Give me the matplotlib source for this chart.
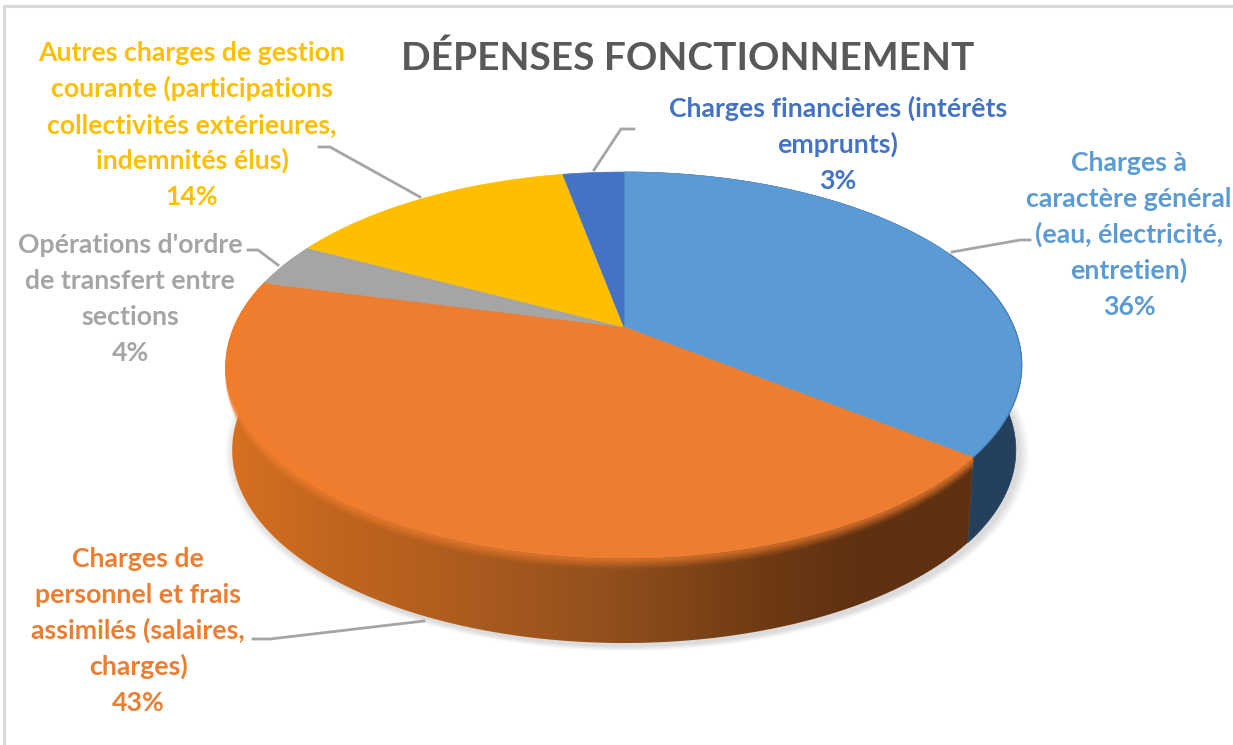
import numpy as np
import matplotlib
matplotlib.use('Agg')
import matplotlib.pyplot as plt
from matplotlib.colors import LinearSegmentedColormap
from matplotlib.patches import Polygon

title = "DÉPENSES FONCTIONNEMENT"
labels = [
    "Charges à\ncaractère général\n(eau, électricité,\nentretien)",
    "Charges de\npersonnel et frais\nassimilés (salaires,\ncharges)",
    "Opérations d'ordre\nde transfert entre\nsections",
    "Autres charges de gestion\ncourante (participations\ncollectivités extérieures,\nindemnités élus)",
    "Charges financières (intérêts\nemprunts)",
]
values = [35.6, 43.4, 3.7, 14.3, 3.0]
colors = ['#5B9BD5', '#ED7D31', '#A5A5A5', '#FFBF00', '#4472C4']

# label layout: centre x, baseline y of the first line
label_pos = [(1129, 171), (138, 567), (130, 253), (192, 61), (838, 117)]
line_pitch = 36
leaders = [
    [(952, 252), (1020, 240), (1030, 240)],
    [(253, 639), (270, 639), (424, 621)],
    [(248, 250), (258, 250), (278, 265)],
    [(319, 147), (330, 147), (420, 197)],
    [(594, 170), (621, 129), (634, 129)],
]

# perspective of the pie top, in pixels
CX, CY = 624, 327
A, B, K = 390, 185.5, 0.197
DEPTH, SHRINK = 85, 0.985
FONT = 'Lato'


def top_xy(theta, scale=1.0):
    # theta in degrees, clockwise from 12 o'clock
    t = np.radians(theta)
    u, v = scale * np.sin(t), scale * np.cos(t)
    w = 1 + K * v
    return CX + A * u / w, CY - B * v / w


def bottom_xy(theta):
    x, y = top_xy(theta)
    return CX + (x - CX) * SHRINK, y + DEPTH


def side_outline(a0, a1):
    th = np.linspace(a0, a1, 200)
    xt, yt = top_xy(th)
    xb, yb = bottom_xy(th[::-1])
    return np.column_stack([np.r_[xt, xb], np.r_[yt, yb]])


fig = plt.figure(figsize=(12.33, 7.45), dpi=100)
ax = fig.add_axes([0, 0, 1, 1])
ax.set_xlim(0, 1233)
ax.set_ylim(745, 0)
ax.axis('off')

# frame of the screenshot
ax.plot([4, 4, 1233], [745, 6, 6], color='#D9D9D9', lw=2.2, zorder=1)

bounds = np.r_[0, np.cumsum(values)] * 360 / sum(values)

# soft shadow under the disc
th = np.linspace(0, 360, 361)
xb, yb = bottom_xy(th)
for i in range(12):
    grow = 1 + 0.0022 * (12 - i)
    ax.add_patch(Polygon(np.column_stack([CX + (xb - CX) * grow + 3, 450 + (yb - 450) * grow + 3]),
                         fc='#000000', ec='none', alpha=0.012, zorder=2))

# side wall, blue part then orange part with its horizontal shading
ax.add_patch(Polygon(side_outline(bounds[0], bounds[1]), fc='#24405C', ec='#24405C', lw=0.5, zorder=3))

side_clip = Polygon(side_outline(bounds[1], bounds[2]), fc='none', ec='none', zorder=3)
ax.add_patch(side_clip)
shade = LinearSegmentedColormap.from_list('side', [
    (0.0, '#D8701F'), (0.12, '#C4671F'), (0.35, '#A85A1E'), (0.5, '#94501D'),
    (0.72, '#6E3A14'), (0.85, '#5F3110'), (1.0, '#5F3110')])
im = ax.imshow(np.linspace(0, 1, 400)[None, :], cmap=shade, extent=[226, 975, 650, 250],
               aspect='auto', zorder=3, interpolation='bilinear')
im.set_clip_path(side_clip)
ax.set_xlim(0, 1233)
ax.set_ylim(745, 0)

# lit edge along the top of the wall
rim_th = np.linspace(bounds[1], bounds[2], 300)
rim_x, rim_y = top_xy(rim_th)
for d in range(1, 13):
    ax.plot(rim_x, rim_y + d, color='#EE7D30', lw=1.4, alpha=0.6 * (1 - d / 13) ** 1.5,
            zorder=3.5, solid_capstyle='butt')

# top face
for i, col in enumerate(colors):
    th = np.linspace(bounds[i], bounds[i + 1], 120)
    x, y = top_xy(th)
    ax.add_patch(Polygon(np.column_stack([np.r_[CX, x], np.r_[CY, y]]),
                         fc=col, ec=col, lw=0.5, zorder=4))

# bevel highlight just inside the orange edge, stronger on the left
left_th = rim_th[rim_th > 215]
for s, al in [(0.995, 0.35), (0.988, 0.28), (0.981, 0.18), (0.974, 0.08)]:
    x, y = top_xy(left_th, s)
    ax.plot(x, y, color='#FA7F22', lw=2.2, alpha=al, zorder=5)
# darker edge at the back right of the blue slice
x, y = top_xy(np.linspace(65, bounds[1], 150))
ax.plot(x, y, color='#3E6C9C', lw=1.0, alpha=0.5, zorder=5)

for pts in leaders:
    ax.plot([p[0] for p in pts], [p[1] for p in pts], color='#A5A5A5', lw=2, zorder=6)

ax.text(688, 70, title, ha='center', va='baseline', color='#595959', fontsize=28,
        fontweight='bold', family=FONT, zorder=7)

total = sum(values)
for lab, val, col, (lx, ly) in zip(labels, values, colors, label_pos):
    lines = lab.split('\n') + [f"{round(val * 100 / total)}%"]
    for i, line in enumerate(lines):
        ax.text(lx, ly + i * line_pitch, line, ha='center', va='baseline', color=col,
                fontsize=19.2, fontweight='bold', family=FONT, zorder=7)

fig.savefig('out.png', dpi=100, facecolor='white')
